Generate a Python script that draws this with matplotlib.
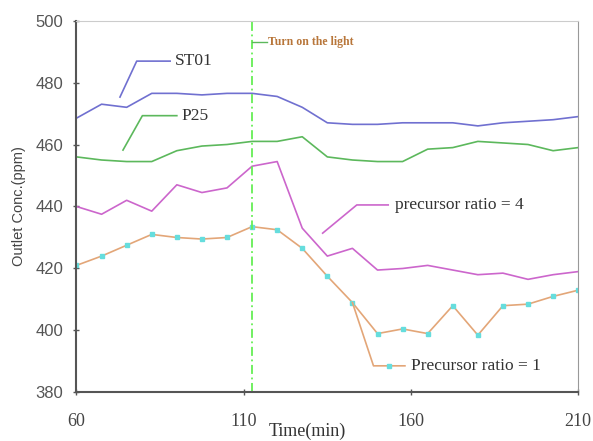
import numpy as np
import matplotlib
matplotlib.use('Agg')
import matplotlib.pyplot as plt

# sampling times (min), one reading every 7.5 min
time_min = np.arange(60, 210.1, 7.5)

st01 = [468.5, 473, 472, 476.5, 476.5, 476, 476.5, 476.5, 475.5, 472, 467,
        466.5, 466.5, 467, 467, 467, 466, 467, 467.5, 468, 469]
p25 = [456, 455, 454.5, 454.5, 458, 459.5, 460, 461, 461, 462.5, 456,
       455, 454.5, 454.5, 458.5, 459, 461, 460.5, 460, 458, 459]
ratio4 = [440, 437.5, 442, 438.5, 447, 444.5, 446, 453, 454.5, 433, 424,
          426.5, 419.5, 420, 421, 419.5, 418, 418.5, 416.5, 418, 419]
ratio1 = [421, 424, 427.5, 431, 430, 429.5, 430, 433.5, 432.5, 426.5, 417.5,
          409, 399, 400.5, 399, 408, 398.5, 408, 408.5, 411, 413]

light_on = 112.5
x_ticks = [60, 110, 160, 210]
y_ticks = [380, 400, 420, 440, 460, 480, 500]

c_blue = '#7070d0'
c_green = '#5cb85c'
c_purple = '#cc66cc'
c_orange = '#e3a678'
c_marker = '#66dddd'

fig = plt.figure(figsize=(5.93, 4.41), dpi=100)
ax = fig.add_axes([0.129, 0.110, 0.846, 0.8435])

ax.plot(time_min, st01, color=c_blue, lw=1.2)
ax.plot(time_min, p25, color=c_green, lw=1.2)
ax.plot(time_min, ratio4, color=c_purple, lw=1.2)
ax.plot(time_min, ratio1, color=c_orange, lw=1.2, marker='s', ms=3,
        mfc=c_marker, mec=c_marker)

# light switched on
ax.axvline(light_on, color='#66ee55', lw=1.3, ls=(0, (5, 2, 1, 2)))
ax.plot([light_on, light_on + 4.5], [493.2, 493.2], color=c_green, lw=1)
ax.text(light_on + 4.7, 493.2, 'Turn on the light', fontsize=8.5,
        fontweight='bold', color='#b8763a', family='Liberation Serif',
        va='center', ha='left')

# series labels with leader lines
serif = 'Liberation Serif'
ax.plot([73, 78, 88], [475.3, 486.9, 486.9], color=c_blue, lw=1.2)
ax.text(89.4, 486.9, 'ST01', fontsize=12.5, family=serif, color='#333333',
        va='center')
ax.plot([73.9, 79.7, 90], [458.2, 469.3, 469.3], color=c_green, lw=1.2)
ax.text(91.4, 469.3, 'P25', fontsize=12.5, family=serif, color='#333333',
        va='center')
ax.plot([133.6, 143.8, 153.2], [431.4, 440.5, 440.5], color=c_purple, lw=1.2)
ax.text(155.3, 440.5, 'precursor ratio = 4', fontsize=12.5, family=serif,
        color='#333333', va='center')
ax.plot([142.5, 148.8, 158.2], [409, 388.6, 388.6], color=c_orange, lw=1.2)
ax.plot([153.5], [388.6], marker='s', ms=3, color=c_marker)
ax.text(159.9, 388.6, 'Precursor ratio = 1', fontsize=12.5, family=serif,
        color='#333333', va='center')

ax.set_xlim(60, 210)
ax.set_ylim(380, 500)
ax.set_xticks(x_ticks)
ax.set_yticks(y_ticks)
ax.tick_params(axis='both', direction='inout', length=5, width=1,
               color='#555555')
ax.tick_params(axis='x', pad=12)
ax.tick_params(axis='y', pad=7)
for lab in ax.get_xticklabels():
    lab.set_family(serif)
    lab.set_fontsize(13)
    lab.set_color('#444444')
for lab in ax.get_yticklabels():
    lab.set_family('Liberation Sans')
    lab.set_fontsize(12)
    lab.set_color('#555555')

ax.set_xlabel('Time(min)', fontsize=13, family=serif, color='#333333')
ax.xaxis.set_label_coords(0.46, -0.08)
ax.set_ylabel('Outlet Conc.(ppm)', fontsize=10.5, family='Liberation Sans',
              color='#444444')
ax.yaxis.set_label_coords(-0.1, 0.5)

ax.spines['left'].set_color('#555555')
ax.spines['left'].set_linewidth(1.5)
ax.spines['bottom'].set_color('#555555')
ax.spines['bottom'].set_linewidth(1.5)
ax.spines['top'].set_color('#cccccc')
ax.spines['right'].set_color('#999999')

fig.savefig('out.png', dpi=100)
